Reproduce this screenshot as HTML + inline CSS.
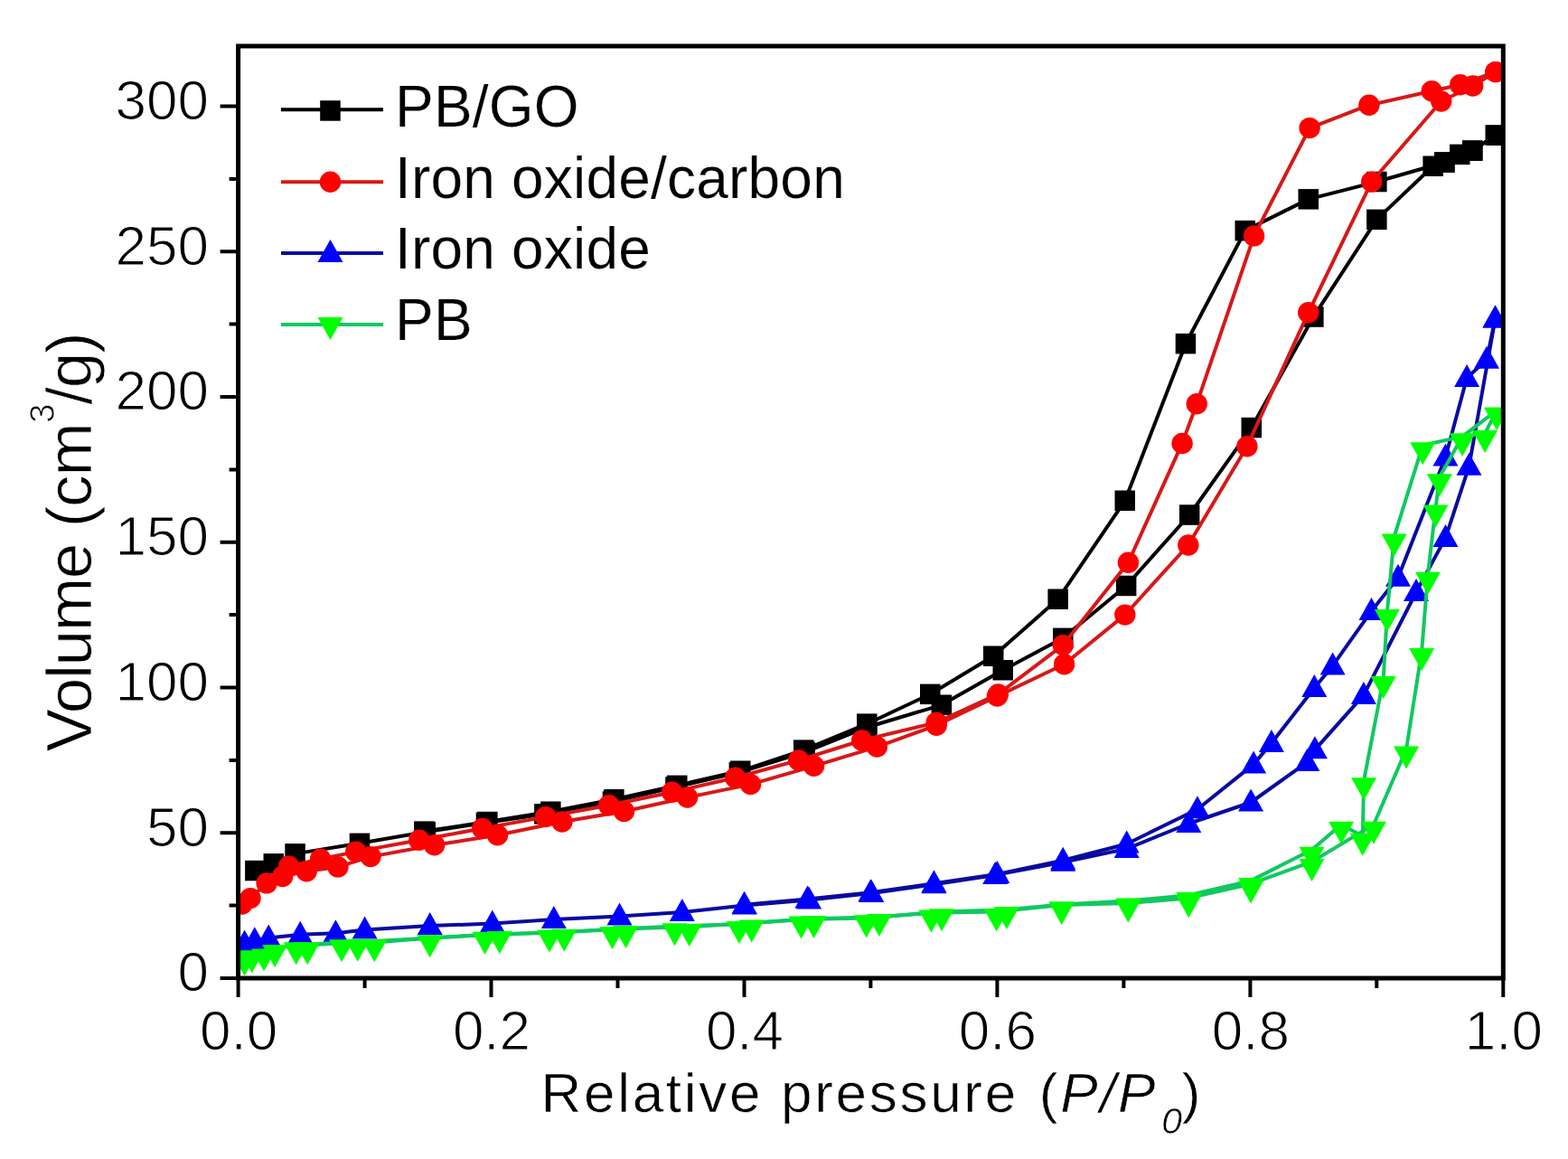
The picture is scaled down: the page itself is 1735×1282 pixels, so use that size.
<!DOCTYPE html><html><head><meta charset="utf-8"><title>Isotherms</title><style>html,body{margin:0;padding:0;background:#fff;overflow:hidden;}svg{display:block;}text{font-family:"Liberation Sans",Arial,sans-serif;fill:#000;stroke:#fff;stroke-width:1.2px;}</style></head><body>
<svg width="1735" height="1282" viewBox="0 0 1735 1282">
<rect width="1735" height="1282" fill="#fff"/>
<defs><clipPath id="pa"><rect x="263.6" y="51.0" width="1399.7" height="1031.0"/></clipPath></defs>
<g clip-path="url(#pa)">
<path d="M1654.9 149.7 L1629.3 166.7 L1598.4 179.5 L1523.3 201.1 L1447.7 220.4 L1377.8 255.1 L1312.0 380.2 L1244.8 553.8 L1170.6 662.8 L1099.2 725.8 L1029.2 767.9 L959.3 800.7 L889.3 829.6 L819.3 852.8 L749.3 868.8 L679.3 884.3 L609.3 897.8 L539.3 909.0 L469.4 919.6" fill="none" stroke="#000000" stroke-width="4.0" stroke-linejoin="round"/>
<path d="M282.4 963.0 L302.8 955.3 L326.6 944.4 L398.0 932.8 L470.8 920.3 L537.9 910.0 L602.3 900.4 L677.9 886.5 L747.5 870.5 L817.9 854.4 L890.7 831.9 L959.3 804.5 L1041.8 779.8 L1109.7 741.2 L1176.2 705.8 L1246.2 648.0 L1316.2 569.5 L1384.8 473.1 L1453.3 350.6 L1523.3 242.9 L1585.6 183.7 L1598.4 179.5 L1615.3 170.9 L1629.3 166.7 L1654.9 149.7" fill="none" stroke="#000000" stroke-width="4.0" stroke-linejoin="round"/>
<rect x="1643.7" y="138.4" width="22.5" height="22.5" fill="#000000"/>
<rect x="1618.0" y="155.4" width="22.5" height="22.5" fill="#000000"/>
<rect x="1587.1" y="168.3" width="22.5" height="22.5" fill="#000000"/>
<rect x="1512.1" y="189.8" width="22.5" height="22.5" fill="#000000"/>
<rect x="1436.5" y="209.1" width="22.5" height="22.5" fill="#000000"/>
<rect x="1366.5" y="243.9" width="22.5" height="22.5" fill="#000000"/>
<rect x="1300.7" y="368.9" width="22.5" height="22.5" fill="#000000"/>
<rect x="1233.5" y="542.5" width="22.5" height="22.5" fill="#000000"/>
<rect x="1159.4" y="651.5" width="22.5" height="22.5" fill="#000000"/>
<rect x="1088.0" y="714.5" width="22.5" height="22.5" fill="#000000"/>
<rect x="1018.0" y="756.6" width="22.5" height="22.5" fill="#000000"/>
<rect x="948.0" y="789.4" width="22.5" height="22.5" fill="#000000"/>
<rect x="878.0" y="818.4" width="22.5" height="22.5" fill="#000000"/>
<rect x="808.0" y="841.5" width="22.5" height="22.5" fill="#000000"/>
<rect x="738.0" y="857.6" width="22.5" height="22.5" fill="#000000"/>
<rect x="668.1" y="873.0" width="22.5" height="22.5" fill="#000000"/>
<rect x="598.1" y="886.5" width="22.5" height="22.5" fill="#000000"/>
<rect x="528.1" y="897.8" width="22.5" height="22.5" fill="#000000"/>
<rect x="458.1" y="908.4" width="22.5" height="22.5" fill="#000000"/>
<rect x="271.1" y="951.8" width="22.5" height="22.5" fill="#000000"/>
<rect x="291.5" y="944.1" width="22.5" height="22.5" fill="#000000"/>
<rect x="315.3" y="933.1" width="22.5" height="22.5" fill="#000000"/>
<rect x="386.7" y="921.6" width="22.5" height="22.5" fill="#000000"/>
<rect x="459.5" y="909.0" width="22.5" height="22.5" fill="#000000"/>
<rect x="526.7" y="898.7" width="22.5" height="22.5" fill="#000000"/>
<rect x="591.1" y="889.1" width="22.5" height="22.5" fill="#000000"/>
<rect x="666.7" y="875.3" width="22.5" height="22.5" fill="#000000"/>
<rect x="736.2" y="859.2" width="22.5" height="22.5" fill="#000000"/>
<rect x="806.6" y="843.1" width="22.5" height="22.5" fill="#000000"/>
<rect x="879.4" y="820.6" width="22.5" height="22.5" fill="#000000"/>
<rect x="948.0" y="793.3" width="22.5" height="22.5" fill="#000000"/>
<rect x="1030.6" y="768.5" width="22.5" height="22.5" fill="#000000"/>
<rect x="1098.5" y="730.0" width="22.5" height="22.5" fill="#000000"/>
<rect x="1165.0" y="694.6" width="22.5" height="22.5" fill="#000000"/>
<rect x="1234.9" y="636.7" width="22.5" height="22.5" fill="#000000"/>
<rect x="1304.9" y="558.3" width="22.5" height="22.5" fill="#000000"/>
<rect x="1373.5" y="461.8" width="22.5" height="22.5" fill="#000000"/>
<rect x="1442.1" y="339.3" width="22.5" height="22.5" fill="#000000"/>
<rect x="1512.1" y="231.6" width="22.5" height="22.5" fill="#000000"/>
<rect x="1574.4" y="172.5" width="22.5" height="22.5" fill="#000000"/>
<rect x="1587.1" y="168.3" width="22.5" height="22.5" fill="#000000"/>
<rect x="1604.0" y="159.6" width="22.5" height="22.5" fill="#000000"/>
<rect x="1618.0" y="155.4" width="22.5" height="22.5" fill="#000000"/>
<rect x="1643.7" y="138.4" width="22.5" height="22.5" fill="#000000"/>
<path d="M1654.9 79.6 L1615.7 93.7 L1584.2 100.8 L1514.9 116.2 L1449.1 141.6 L1387.6 260.9 L1324.2 446.7 L1308.1 490.4 L1248.4 622.3 L1176.2 713.6 L1104.4 767.9 L1036.2 799.1 L953.7 819.0 L883.7 840.9 L813.7 860.2 L743.7 876.2 L673.7 890.7 L603.7 903.6 L533.7 916.4 L463.8 929.3 L393.8 942.1 L354.6 950.2 L319.6 958.2" fill="none" stroke="#D81818" stroke-width="4.0" stroke-linejoin="round"/>
<path d="M267.8 1000.0 L277.0 993.6 L295.1 976.9 L312.6 969.5 L339.2 963.7 L373.9 958.9 L410.0 947.6 L480.6 934.8 L550.5 923.8 L621.9 909.0 L690.5 897.5 L760.5 882.0 L830.5 867.6 L900.5 847.3 L970.4 826.1 L1036.2 802.3 L1103.4 770.1 L1177.6 734.8 L1244.8 680.1 L1314.8 603.0 L1379.9 493.7 L1447.7 345.8 L1517.7 201.1 L1594.7 112.0 L1629.7 95.0 L1654.9 79.6" fill="none" stroke="#D81818" stroke-width="4.0" stroke-linejoin="round"/>
<circle cx="1654.9" cy="79.6" r="11.7" fill="#FF0000"/>
<circle cx="1615.7" cy="93.7" r="11.7" fill="#FF0000"/>
<circle cx="1584.2" cy="100.8" r="11.7" fill="#FF0000"/>
<circle cx="1514.9" cy="116.2" r="11.7" fill="#FF0000"/>
<circle cx="1449.1" cy="141.6" r="11.7" fill="#FF0000"/>
<circle cx="1387.6" cy="260.9" r="11.7" fill="#FF0000"/>
<circle cx="1324.2" cy="446.7" r="11.7" fill="#FF0000"/>
<circle cx="1308.1" cy="490.4" r="11.7" fill="#FF0000"/>
<circle cx="1248.4" cy="622.3" r="11.7" fill="#FF0000"/>
<circle cx="1176.2" cy="713.6" r="11.7" fill="#FF0000"/>
<circle cx="1104.4" cy="767.9" r="11.7" fill="#FF0000"/>
<circle cx="1036.2" cy="799.1" r="11.7" fill="#FF0000"/>
<circle cx="953.7" cy="819.0" r="11.7" fill="#FF0000"/>
<circle cx="883.7" cy="840.9" r="11.7" fill="#FF0000"/>
<circle cx="813.7" cy="860.2" r="11.7" fill="#FF0000"/>
<circle cx="743.7" cy="876.2" r="11.7" fill="#FF0000"/>
<circle cx="673.7" cy="890.7" r="11.7" fill="#FF0000"/>
<circle cx="603.7" cy="903.6" r="11.7" fill="#FF0000"/>
<circle cx="533.7" cy="916.4" r="11.7" fill="#FF0000"/>
<circle cx="463.8" cy="929.3" r="11.7" fill="#FF0000"/>
<circle cx="393.8" cy="942.1" r="11.7" fill="#FF0000"/>
<circle cx="354.6" cy="950.2" r="11.7" fill="#FF0000"/>
<circle cx="319.6" cy="958.2" r="11.7" fill="#FF0000"/>
<circle cx="267.8" cy="1000.0" r="11.7" fill="#FF0000"/>
<circle cx="277.0" cy="993.6" r="11.7" fill="#FF0000"/>
<circle cx="295.1" cy="976.9" r="11.7" fill="#FF0000"/>
<circle cx="312.6" cy="969.5" r="11.7" fill="#FF0000"/>
<circle cx="339.2" cy="963.7" r="11.7" fill="#FF0000"/>
<circle cx="373.9" cy="958.9" r="11.7" fill="#FF0000"/>
<circle cx="410.0" cy="947.6" r="11.7" fill="#FF0000"/>
<circle cx="480.6" cy="934.8" r="11.7" fill="#FF0000"/>
<circle cx="550.5" cy="923.8" r="11.7" fill="#FF0000"/>
<circle cx="621.9" cy="909.0" r="11.7" fill="#FF0000"/>
<circle cx="690.5" cy="897.5" r="11.7" fill="#FF0000"/>
<circle cx="760.5" cy="882.0" r="11.7" fill="#FF0000"/>
<circle cx="830.5" cy="867.6" r="11.7" fill="#FF0000"/>
<circle cx="900.5" cy="847.3" r="11.7" fill="#FF0000"/>
<circle cx="970.4" cy="826.1" r="11.7" fill="#FF0000"/>
<circle cx="1036.2" cy="802.3" r="11.7" fill="#FF0000"/>
<circle cx="1103.4" cy="770.1" r="11.7" fill="#FF0000"/>
<circle cx="1177.6" cy="734.8" r="11.7" fill="#FF0000"/>
<circle cx="1244.8" cy="680.1" r="11.7" fill="#FF0000"/>
<circle cx="1314.8" cy="603.0" r="11.7" fill="#FF0000"/>
<circle cx="1379.9" cy="493.7" r="11.7" fill="#FF0000"/>
<circle cx="1447.7" cy="345.8" r="11.7" fill="#FF0000"/>
<circle cx="1517.7" cy="201.1" r="11.7" fill="#FF0000"/>
<circle cx="1594.7" cy="112.0" r="11.7" fill="#FF0000"/>
<circle cx="1629.7" cy="95.0" r="11.7" fill="#FF0000"/>
<circle cx="1654.9" cy="79.6" r="11.7" fill="#FF0000"/>
<path d="M1654.5 352.5 L1645.0 397.8 L1623.1 418.1 L1599.5 505.6 L1547.0 638.7 L1517.5 675.9 L1474.6 736.4 L1454.3 761.1 L1406.9 821.9 L1387.1 845.4 L1324.9 895.2 L1246.7 933.5 L1176.2 951.8 L1103.4 966.9 L1033.4 977.2 L963.4 987.2 L893.5 994.6 L823.5 1000.7" fill="none" stroke="#0A0AA0" stroke-width="4.0" stroke-linejoin="round"/>
<path d="M270.6 1043.4 L281.8 1040.2 L297.2 1037.6 L332.2 1033.8 L371.4 1032.2 L403.6 1028.6 L475.7 1024.1 L544.8 1021.6 L612.8 1017.1 L685.5 1013.5 L754.8 1009.0 L823.9 1001.6 L895.1 995.5 L964.3 988.1 L1033.4 978.2 L1101.2 967.9 L1176.2 953.7 L1246.7 938.9 L1315.3 911.0 L1384.1 887.5 L1446.3 843.1 L1454.9 829.3 L1508.9 768.9 L1567.0 655.0 L1599.5 594.9 L1625.5 515.8 L1654.5 352.5" fill="none" stroke="#0A0AA0" stroke-width="4.0" stroke-linejoin="round"/>
<polygon points="1654.5,337.5 1640.5,362.5 1668.5,362.5" fill="#0000FF"/>
<polygon points="1645.0,382.8 1631.0,407.8 1659.0,407.8" fill="#0000FF"/>
<polygon points="1623.1,403.1 1609.1,428.1 1637.1,428.1" fill="#0000FF"/>
<polygon points="1599.5,490.6 1585.5,515.6 1613.5,515.6" fill="#0000FF"/>
<polygon points="1547.0,623.7 1533.0,648.7 1561.0,648.7" fill="#0000FF"/>
<polygon points="1517.5,660.9 1503.5,685.9 1531.5,685.9" fill="#0000FF"/>
<polygon points="1474.6,721.4 1460.6,746.4 1488.6,746.4" fill="#0000FF"/>
<polygon points="1454.3,746.1 1440.3,771.1 1468.3,771.1" fill="#0000FF"/>
<polygon points="1406.9,806.9 1392.9,831.9 1420.9,831.9" fill="#0000FF"/>
<polygon points="1387.1,830.4 1373.1,855.4 1401.1,855.4" fill="#0000FF"/>
<polygon points="1324.9,880.2 1310.9,905.2 1338.9,905.2" fill="#0000FF"/>
<polygon points="1246.7,918.5 1232.7,943.5 1260.7,943.5" fill="#0000FF"/>
<polygon points="1176.2,936.8 1162.2,961.8 1190.2,961.8" fill="#0000FF"/>
<polygon points="1103.4,951.9 1089.4,976.9 1117.4,976.9" fill="#0000FF"/>
<polygon points="1033.4,962.2 1019.4,987.2 1047.4,987.2" fill="#0000FF"/>
<polygon points="963.4,972.2 949.4,997.2 977.4,997.2" fill="#0000FF"/>
<polygon points="893.5,979.6 879.5,1004.6 907.5,1004.6" fill="#0000FF"/>
<polygon points="823.5,985.7 809.5,1010.7 837.5,1010.7" fill="#0000FF"/>
<polygon points="270.6,1028.4 256.6,1053.4 284.6,1053.4" fill="#0000FF"/>
<polygon points="281.8,1025.2 267.8,1050.2 295.8,1050.2" fill="#0000FF"/>
<polygon points="297.2,1022.6 283.2,1047.6 311.2,1047.6" fill="#0000FF"/>
<polygon points="332.2,1018.8 318.2,1043.8 346.2,1043.8" fill="#0000FF"/>
<polygon points="371.4,1017.2 357.4,1042.2 385.4,1042.2" fill="#0000FF"/>
<polygon points="403.6,1013.6 389.6,1038.6 417.6,1038.6" fill="#0000FF"/>
<polygon points="475.7,1009.1 461.7,1034.1 489.7,1034.1" fill="#0000FF"/>
<polygon points="544.8,1006.6 530.8,1031.6 558.8,1031.6" fill="#0000FF"/>
<polygon points="612.8,1002.1 598.8,1027.1 626.8,1027.1" fill="#0000FF"/>
<polygon points="685.5,998.5 671.5,1023.5 699.5,1023.5" fill="#0000FF"/>
<polygon points="754.8,994.0 740.8,1019.0 768.8,1019.0" fill="#0000FF"/>
<polygon points="823.9,986.6 809.9,1011.6 837.9,1011.6" fill="#0000FF"/>
<polygon points="895.1,980.5 881.1,1005.5 909.1,1005.5" fill="#0000FF"/>
<polygon points="964.3,973.1 950.3,998.1 978.3,998.1" fill="#0000FF"/>
<polygon points="1033.4,963.2 1019.4,988.2 1047.4,988.2" fill="#0000FF"/>
<polygon points="1101.2,952.9 1087.2,977.9 1115.2,977.9" fill="#0000FF"/>
<polygon points="1176.2,938.7 1162.2,963.7 1190.2,963.7" fill="#0000FF"/>
<polygon points="1246.7,923.9 1232.7,948.9 1260.7,948.9" fill="#0000FF"/>
<polygon points="1315.3,896.0 1301.3,921.0 1329.3,921.0" fill="#0000FF"/>
<polygon points="1384.1,872.5 1370.1,897.5 1398.1,897.5" fill="#0000FF"/>
<polygon points="1446.3,828.1 1432.3,853.1 1460.3,853.1" fill="#0000FF"/>
<polygon points="1454.9,814.3 1440.9,839.3 1468.9,839.3" fill="#0000FF"/>
<polygon points="1508.9,753.9 1494.9,778.9 1522.9,778.9" fill="#0000FF"/>
<polygon points="1567.0,640.0 1553.0,665.0 1581.0,665.0" fill="#0000FF"/>
<polygon points="1599.5,579.9 1585.5,604.9 1613.5,604.9" fill="#0000FF"/>
<polygon points="1625.5,500.8 1611.5,525.8 1639.5,525.8" fill="#0000FF"/>
<polygon points="1654.5,337.5 1640.5,362.5 1668.5,362.5" fill="#0000FF"/>
<path d="M1656.2 453.9 L1643.1 479.3 L1618.1 482.9 L1574.3 492.5 L1542.6 593.8 L1534.9 677.4 L1530.7 751.3 L1509.1 863.5 L1507.8 924.9 L1484.1 912.1 L1451.5 940.0 L1384.1 974.1 L1315.3 990.2 L1248.4 996.6 L1174.7 1000.5 L1113.9 1006.3 L1042.0 1008.5 L972.8 1014.3 L900.5 1016.2 L831.7 1020.7 L762.7 1025.2 L692.5 1027.2 L624.3 1031.0 L552.8 1033.3 L395.7 1042.0 L340.2 1045.5" fill="none" stroke="#10C860" stroke-width="4.0" stroke-linejoin="round"/>
<path d="M270.6 1057.7 L278.7 1054.5 L292.0 1052.9 L304.2 1048.4 L327.7 1045.5 L378.0 1042.6 L414.3 1042.6 L475.7 1037.5 L536.5 1033.9 L607.9 1031.7 L677.5 1028.1 L746.5 1024.6 L817.9 1022.3 L886.5 1016.9 L958.6 1015.6 L1030.5 1009.8 L1102.6 1008.5 L1174.7 1001.1 L1248.4 998.9 L1315.3 993.4 L1384.1 977.7 L1451.5 953.2 L1520.0 912.1 L1556.1 828.8 L1573.2 720.1 L1579.9 635.9 L1588.6 561.6 L1592.9 527.6 L1618.1 482.9 L1656.2 453.9" fill="none" stroke="#10C860" stroke-width="4.0" stroke-linejoin="round"/>
<polygon points="1656.2,475.7 1642.2,450.7 1670.2,450.7" fill="#00FF00"/>
<polygon points="1643.1,501.1 1629.1,476.1 1657.1,476.1" fill="#00FF00"/>
<polygon points="1618.1,504.6 1604.1,479.6 1632.1,479.6" fill="#00FF00"/>
<polygon points="1574.3,514.3 1560.3,489.3 1588.3,489.3" fill="#00FF00"/>
<polygon points="1542.6,615.5 1528.6,590.5 1556.6,590.5" fill="#00FF00"/>
<polygon points="1534.9,699.1 1520.9,674.1 1548.9,674.1" fill="#00FF00"/>
<polygon points="1530.7,773.1 1516.7,748.1 1544.7,748.1" fill="#00FF00"/>
<polygon points="1509.1,885.3 1495.1,860.3 1523.1,860.3" fill="#00FF00"/>
<polygon points="1507.8,946.7 1493.8,921.7 1521.8,921.7" fill="#00FF00"/>
<polygon points="1484.1,933.8 1470.1,908.8 1498.1,908.8" fill="#00FF00"/>
<polygon points="1451.5,961.8 1437.5,936.8 1465.5,936.8" fill="#00FF00"/>
<polygon points="1384.1,995.9 1370.1,970.9 1398.1,970.9" fill="#00FF00"/>
<polygon points="1315.3,1011.9 1301.3,986.9 1329.3,986.9" fill="#00FF00"/>
<polygon points="1248.4,1018.4 1234.4,993.4 1262.4,993.4" fill="#00FF00"/>
<polygon points="1174.7,1022.2 1160.7,997.2 1188.7,997.2" fill="#00FF00"/>
<polygon points="1113.9,1028.0 1099.9,1003.0 1127.9,1003.0" fill="#00FF00"/>
<polygon points="1042.0,1030.3 1028.0,1005.3 1056.0,1005.3" fill="#00FF00"/>
<polygon points="972.8,1036.1 958.8,1011.1 986.8,1011.1" fill="#00FF00"/>
<polygon points="900.5,1038.0 886.5,1013.0 914.5,1013.0" fill="#00FF00"/>
<polygon points="831.7,1042.5 817.7,1017.5 845.7,1017.5" fill="#00FF00"/>
<polygon points="762.7,1047.0 748.7,1022.0 776.7,1022.0" fill="#00FF00"/>
<polygon points="692.5,1048.9 678.5,1023.9 706.5,1023.9" fill="#00FF00"/>
<polygon points="624.3,1052.8 610.3,1027.8 638.3,1027.8" fill="#00FF00"/>
<polygon points="552.8,1055.0 538.8,1030.0 566.8,1030.0" fill="#00FF00"/>
<polygon points="395.7,1063.7 381.7,1038.7 409.7,1038.7" fill="#00FF00"/>
<polygon points="340.2,1067.2 326.2,1042.2 354.2,1042.2" fill="#00FF00"/>
<polygon points="270.6,1079.5 256.6,1054.5 284.6,1054.5" fill="#00FF00"/>
<polygon points="278.7,1076.2 264.7,1051.2 292.7,1051.2" fill="#00FF00"/>
<polygon points="292.0,1074.6 278.0,1049.6 306.0,1049.6" fill="#00FF00"/>
<polygon points="304.2,1070.1 290.2,1045.1 318.2,1045.1" fill="#00FF00"/>
<polygon points="327.7,1067.2 313.7,1042.2 341.7,1042.2" fill="#00FF00"/>
<polygon points="378.0,1064.3 364.0,1039.3 392.0,1039.3" fill="#00FF00"/>
<polygon points="414.3,1064.3 400.3,1039.3 428.3,1039.3" fill="#00FF00"/>
<polygon points="475.7,1059.2 461.7,1034.2 489.7,1034.2" fill="#00FF00"/>
<polygon points="536.5,1055.7 522.5,1030.7 550.5,1030.7" fill="#00FF00"/>
<polygon points="607.9,1053.4 593.9,1028.4 621.9,1028.4" fill="#00FF00"/>
<polygon points="677.5,1049.9 663.5,1024.9 691.5,1024.9" fill="#00FF00"/>
<polygon points="746.5,1046.3 732.5,1021.3 760.5,1021.3" fill="#00FF00"/>
<polygon points="817.9,1044.1 803.9,1019.1 831.9,1019.1" fill="#00FF00"/>
<polygon points="886.5,1038.6 872.5,1013.6 900.5,1013.6" fill="#00FF00"/>
<polygon points="958.6,1037.3 944.6,1012.3 972.6,1012.3" fill="#00FF00"/>
<polygon points="1030.5,1031.6 1016.5,1006.6 1044.5,1006.6" fill="#00FF00"/>
<polygon points="1102.6,1030.3 1088.6,1005.3 1116.6,1005.3" fill="#00FF00"/>
<polygon points="1174.7,1022.9 1160.7,997.9 1188.7,997.9" fill="#00FF00"/>
<polygon points="1248.4,1020.6 1234.4,995.6 1262.4,995.6" fill="#00FF00"/>
<polygon points="1315.3,1015.2 1301.3,990.2 1329.3,990.2" fill="#00FF00"/>
<polygon points="1384.1,999.4 1370.1,974.4 1398.1,974.4" fill="#00FF00"/>
<polygon points="1451.5,975.0 1437.5,950.0 1465.5,950.0" fill="#00FF00"/>
<polygon points="1520.0,933.8 1506.0,908.8 1534.0,908.8" fill="#00FF00"/>
<polygon points="1556.1,850.6 1542.1,825.6 1570.1,825.6" fill="#00FF00"/>
<polygon points="1573.2,741.9 1559.2,716.9 1587.2,716.9" fill="#00FF00"/>
<polygon points="1579.9,657.7 1565.9,632.7 1593.9,632.7" fill="#00FF00"/>
<polygon points="1588.6,583.4 1574.6,558.4 1602.6,558.4" fill="#00FF00"/>
<polygon points="1592.9,549.3 1578.9,524.3 1606.9,524.3" fill="#00FF00"/>
<polygon points="1618.1,504.6 1604.1,479.6 1632.1,479.6" fill="#00FF00"/>
<polygon points="1656.2,475.7 1642.2,450.7 1670.2,450.7" fill="#00FF00"/>
</g>
<rect x="263.6" y="51.0" width="1399.7" height="1031.0" fill="none" stroke="#000" stroke-width="5.0"/>
<path d="M243.6 1082.0H263.6M253.6 1001.6H263.6M243.6 921.2H263.6M253.6 840.9H263.6M243.6 760.5H263.6M253.6 680.1H263.6M243.6 599.8H263.6M253.6 519.4H263.6M243.6 439.0H263.6M253.6 358.6H263.6M243.6 278.2H263.6M253.6 197.9H263.6M243.6 117.5H263.6M263.6 1082.0V1103.0M403.6 1082.0V1093.0M543.5 1082.0V1103.0M683.5 1082.0V1093.0M823.5 1082.0V1103.0M963.4 1082.0V1093.0M1103.4 1082.0V1103.0M1243.4 1082.0V1093.0M1383.4 1082.0V1103.0M1523.3 1082.0V1093.0M1663.3 1082.0V1103.0" stroke="#000" stroke-width="4" fill="none"/>
<text x="231" y="1096.3" font-size="62" text-anchor="end">0</text>
<text x="231" y="935.5" font-size="62" text-anchor="end">50</text>
<text x="231" y="774.8" font-size="62" text-anchor="end">100</text>
<text x="231" y="614.0" font-size="62" text-anchor="end">150</text>
<text x="231" y="453.3" font-size="62" text-anchor="end">200</text>
<text x="231" y="292.6" font-size="62" text-anchor="end">250</text>
<text x="231" y="131.8" font-size="62" text-anchor="end">300</text>
<text x="264.1" y="1160.5" font-size="62" text-anchor="middle">0.0</text>
<text x="544.0" y="1160.5" font-size="62" text-anchor="middle">0.2</text>
<text x="824.0" y="1160.5" font-size="62" text-anchor="middle">0.4</text>
<text x="1103.9" y="1160.5" font-size="62" text-anchor="middle">0.6</text>
<text x="1383.9" y="1160.5" font-size="62" text-anchor="middle">0.8</text>
<text x="1663.8" y="1160.5" font-size="62" text-anchor="middle">1.0</text>
<text x="598.5" y="1229.5" font-size="62" letter-spacing="2.7" style="stroke-width:0.6px">Relative pressure <tspan dx="3">(</tspan><tspan font-style="italic">P/P</tspan><tspan font-style="italic" font-size="41" dy="24" dx="4">0</tspan><tspan dy="-24" dx="-3">)</tspan></text>
<g transform="translate(100.5,831.5) rotate(-90)"><text x="0" y="0" font-size="71" letter-spacing="-1.2" style="stroke-width:0.8px">Volume (cm<tspan font-size="38" dy="-41" dx="1">3</tspan><tspan dy="41">/g)</tspan></text></g>
<path d="M311 121.3H424" stroke="#000000" stroke-width="4.0"/>
<rect x="354.2" y="111.2" width="22.5" height="22.5" fill="#000000"/>
<text x="437" y="140.4" font-size="64" letter-spacing="0.2" style="stroke-width:0.2px">PB/GO</text>
<path d="M311 201.2H424" stroke="#D81818" stroke-width="4.0"/>
<circle cx="365.5" cy="201.2" r="11.7" fill="#FF0000"/>
<text x="437" y="218.6" font-size="64" letter-spacing="0.2" style="stroke-width:0.2px">Iron oxide/carbon</text>
<path d="M311 280.0H424" stroke="#0A0AA0" stroke-width="4.0"/>
<polygon points="365.5,265.0 351.5,290.0 379.5,290.0" fill="#0000FF"/>
<text x="437" y="297.2" font-size="64" letter-spacing="0.2" style="stroke-width:0.2px">Iron oxide</text>
<path d="M311 359.1H424" stroke="#10C860" stroke-width="4.0"/>
<polygon points="365.5,375.9 351.5,350.9 379.5,350.9" fill="#00FF00"/>
<text x="437" y="375.6" font-size="64" letter-spacing="0.2" style="stroke-width:0.2px">PB</text>
</svg></body></html>
